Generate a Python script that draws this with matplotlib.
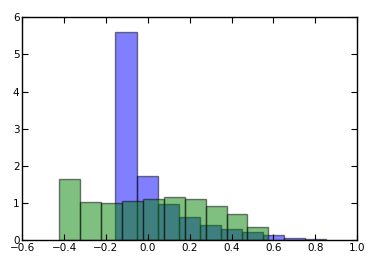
import numpy as np
import matplotlib
matplotlib.use("Agg")
import matplotlib.pyplot as plt

# bin edges and bar heights (normed histograms)
blue_edges = [-0.156, -0.054, 0.047, 0.148, 0.249, 0.350, 0.450, 0.550, 0.650, 0.750, 0.850]
blue_heights = [5.59, 1.72, 0.96, 0.61, 0.40, 0.29, 0.21, 0.13, 0.07, 0.03]

green_edges = [-0.425, -0.325, -0.223, -0.124, -0.022, 0.078, 0.179, 0.279, 0.376, 0.475, 0.575]
green_heights = [1.65, 1.02, 0.99, 1.05, 1.12, 1.15, 1.10, 0.91, 0.69, 0.34]

xticks = [-0.6, -0.4, -0.2, 0.0, 0.2, 0.4, 0.6, 0.8, 1.0]
yticks = [0, 1, 2, 3, 4, 5, 6]

fig = plt.figure(figsize=(3.76, 2.61), dpi=100)
ax = fig.add_axes([0.059, 0.080, 0.891, 0.854])

# blue first, green on top gives the teal overlap
ax.hist(blue_edges[:-1], bins=blue_edges, weights=blue_heights,
        color="b", alpha=0.5, edgecolor="k", linewidth=1)
ax.hist(green_edges[:-1], bins=green_edges, weights=green_heights,
        color="g", alpha=0.5, edgecolor="k", linewidth=1)

ax.set_xlim(-0.6, 1.0)
ax.set_ylim(0, 6)
ax.set_xticks(xticks)
ax.set_yticks(yticks)
ax.set_xticklabels([f"{t:.1f}".replace("-", "\u2212") for t in xticks])
ax.tick_params(direction="in", top=True, right=True, labelsize=7.5,
               length=4, width=0.8, pad=2)
for s in ax.spines.values():
    s.set_linewidth(1)

fig.savefig("out.png", dpi=100, facecolor="white")
